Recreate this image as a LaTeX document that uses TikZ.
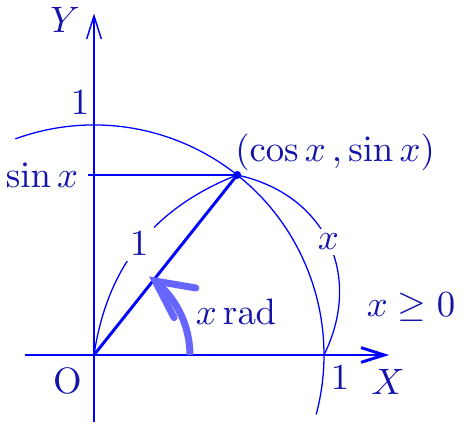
\documentclass[tikz,border=0pt]{standalone}
\usetikzlibrary{arrows.meta,bending}
\definecolor{lineblue}{RGB}{0,0,255}
\definecolor{txtblue}{RGB}{20,20,170}
\definecolor{lightblue}{RGB}{102,102,255}
\begin{document}
\begin{tikzpicture}[x=2.2cm,y=2.2cm,
  ax/.style={draw=lineblue, line width=0.4pt},
  axarrow/.style={-{Straight Barb[length=6.3pt,width=4pt]}},
  thickl/.style={draw=lineblue, line width=0.8pt},
  thinl/.style={draw=lineblue, line width=0.35pt},
  lbl/.style={text=txtblue, inner sep=1pt},
  gaplbl/.style={text=txtblue, fill=white, inner sep=1.5pt}]
\useasboundingbox (-0.4087,-0.3043) rectangle (1.6174,1.5435);
% key points
\coordinate (O) at (0,0);
\coordinate (P) at (51.5:1);
\coordinate (E) at (1,0);
\coordinate (Xend) at (1.283,0);
\coordinate (Xstart) at (-0.3,0);
\coordinate (Yend) at (0,1.485);
\coordinate (Ystart) at (0,-0.29);
\coordinate (S) at (-0.025,{sin(51.5)});
\coordinate (A0) at (0.417,0);
% axes
\draw[ax] (Xstart) -- (O);
\draw[thickl, axarrow] (O) -- (Xend);
\draw[ax, axarrow] (Ystart) -- (Yend);
% unit circle arc
\draw[thinl] (110:1) arc[start angle=110, end angle=-15, radius=1];
% sin line
\draw[thinl] (S) -- (P);
% radius
\draw[thickl] (O) -- (P);
% bend arcs with labels
\draw[thinl] (O) to[bend left=30] node[gaplbl, pos=0.5] (one) {$1$} (P);
\draw[thinl] (P) to[bend left=52, looseness=1.15] node[gaplbl, pos=0.5] (xl) {$x$} (E);
% angle arrow
\draw[lightblue, line width=1.9pt, -{Straight Barb[length=10pt,width=10pt,line cap=round,flex]}]
  (A0) arc[start angle=0, end angle=55, radius=0.417];
% point
\fill[lineblue] (P) circle[radius=1.1pt];
% labels
\node[lbl] (Ylbl) at (-0.126,1.457) {$Y$};
\node[lbl] (oneY) at (-0.061,1.096) {$1$};
\node[lbl, anchor=east] (sinlbl) at (-0.05,{sin(51.5)}) {$\sin x$};
\node[lbl] (Plbl) at (1.048,0.883) {$(\cos x\,,\sin x)$};
\node[lbl] (rad) at (0.617,0.187) {$x\,\mathrm{rad}$};
\node[lbl] (cond) at (1.378,0.209) {$x\geq 0$};
\node[lbl] (oneX) at (1.07,-0.1) {$1$};
\node[lbl] (Xlbl) at (1.278,-0.117) {$X$};
\node[lbl] (Olbl) at (-0.113,-0.113) {O};
\end{tikzpicture}
\end{document}
